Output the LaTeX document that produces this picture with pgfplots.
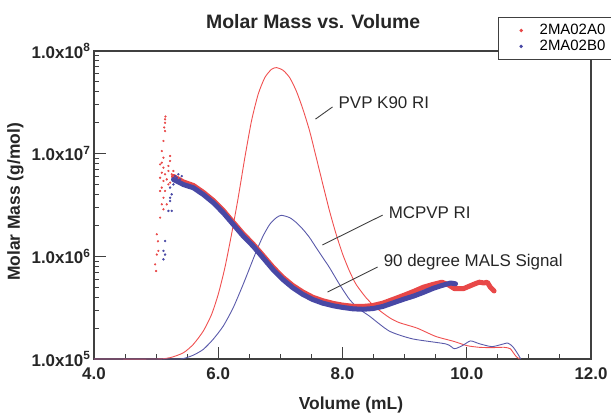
\documentclass[border=0pt]{standalone}
\usepackage{pgfplots}
\pgfplotsset{compat=1.18}
\usepackage{fontspec}
\setmainfont{Liberation Sans}
\definecolor{mred}{RGB}{240,80,80}
\definecolor{mblue}{RGB}{90,90,170}
\definecolor{bred}{RGB}{232,72,72}
\definecolor{bblue}{RGB}{72,72,165}
\begin{document}
\begin{tikzpicture}
\begin{axis}[
  scale only axis, width=497bp, height=308bp,
  xmin=4, xmax=12, ymin=1e5, ymax=1e8, ymode=log,
  axis line style={draw=black!75, line width=1.1bp},
  xtick={4,6,8,10,12}, xticklabels={4.0,6.0,8.0,10.0,12.0},
  minor x tick num=3,
  ytick={1e5,1e6,1e7,1e8},
  yticklabels={1.0x10\textsuperscript{5},1.0x10\textsuperscript{6},1.0x10\textsuperscript{7},1.0x10\textsuperscript{8}},
  tick pos=left, tick align=inside,
  major tick length=12bp, minor tick length=5bp,
  every tick/.style={black!75, line width=0.9bp},
  ticklabel style={font=\bfseries\fontsize{17}{20}\selectfont, text=black!85},
  xticklabel style={yshift=-5bp},
  clip=false,
  legend style={at={(0.813,0.971)}, anchor=south west, draw=black!75, line width=1.1bp,
    fill=white, font=\fontsize{15}{17}\selectfont, inner xsep=8bp, inner ysep=5bp, row sep=0bp},
  legend cell align=right,
]
\addlegendimage{legend image code/.code={\path (0bp,0bp) (30bp,0bp); \fill[bred] (14bp,0bp) circle (1.1bp);}}
\addlegendentry{2MA02A0}
\addlegendimage{legend image code/.code={\path (0bp,0bp) (30bp,0bp); \fill[bblue] (14bp,0bp) circle (1.1bp);}}
\addlegendentry{2MA02B0}

% PVP K90 RI (red thin)
\addplot[forget plot, mred, line width=0.9bp, smooth, tension=0.4] coordinates {
(4.0,1.0e5) (5.0,1.0e5) (5.225,1.03e5) (5.439,1.15e5) (5.599,1.39e5) (5.759,1.87e5)
(5.893,2.72e5) (6.0,4.27e5) (6.107,7.76e5) (6.214,1.64e6) (6.321,3.72e6) (6.428,9.14e6)
(6.535,2.08e7) (6.642,3.78e7) (6.749,5.50e7) (6.856,6.62e7) (6.936,6.89e7) (7.043,6.49e7)
(7.150,5.50e7) (7.257,4.07e7) (7.364,2.70e7) (7.471,1.66e7) (7.578,9.14e6) (7.684,5.02e6)
(7.791,2.77e6) (7.898,1.64e6) (8.005,1.04e6) (8.112,7.19e5) (8.219,5.33e5) (8.380,3.95e5)
(8.540,3.16e5) (8.754,2.53e5) (8.914,2.26e5) (9.2,2.0e5) (9.5,1.66e5) (9.8,1.48e5)
(10.0,1.35e5) (10.2,1.30e5) (10.4,1.29e5) (10.6,1.30e5) (10.7,1.26e5) (10.75,1.15e5)
(10.8,1.05e5) (10.85,1.0e5)
};
% MCPVP RI (blue thin)
\addplot[forget plot, mblue, line width=0.9bp, smooth, tension=0.4] coordinates {
(4.0,1.0e5) (5.3,1.0e5) (5.439,1.01e5) (5.599,1.09e5) (5.759,1.24e5) (5.920,1.56e5)
(6.080,2.09e5) (6.241,3.16e5) (6.401,5.33e5) (6.508,7.76e5) (6.615,1.13e6) (6.722,1.58e6)
(6.829,2.05e6) (6.936,2.38e6) (7.016,2.51e6) (7.150,2.38e6) (7.257,2.13e6) (7.364,1.83e6)
(7.471,1.52e6) (7.578,1.21e6) (7.684,9.70e5) (7.791,7.76e5) (7.952,5.33e5) (8.112,3.81e5)
(8.273,3.05e5) (8.433,2.62e5) (8.754,1.87e5) (9.128,1.57e5) (9.668,1.40e5) (9.80,1.26e5)
(9.93,1.35e5) (10.06,1.50e5) (10.2,1.41e5) (10.4,1.32e5) (10.55,1.38e5) (10.66,1.43e5)
(10.74,1.32e5) (10.81,1.15e5) (10.87,1.0e5)
};
% MALS molar mass band, red
\addplot[forget plot, bred, line width=5bp, line join=round, line cap=round] coordinates {
(5.28,6.0e6) (5.44,5.3e6) (5.60,4.9e6) (5.76,4.2e6) (5.92,3.5e6) (6.08,2.8e6) (6.24,2.15e6)
(6.40,1.66e6) (6.56,1.32e6) (6.72,1.02e6) (6.88,7.85e5) (7.04,6.25e5) (7.20,5.2e5) (7.36,4.5e5)
(7.52,4.0e5) (7.68,3.7e5) (7.85,3.48e5) (8.0,3.35e5) (8.17,3.26e5) (8.33,3.25e5) (8.49,3.32e5)
(8.65,3.5e5) (8.86,3.9e5) (9.0,4.2e5) (9.145,4.55e5) (9.3,5.0e5) (9.468,5.35e5) (9.6,5.6e5)
(9.7,5.3e5) (9.8,4.85e5) (9.95,4.85e5) (10.1,5.3e5) (10.2,5.6e5) (10.28,5.5e5) (10.33,5.6e5)
(10.38,5.0e5) (10.44,4.6e5)
};
% MALS molar mass band, blue
\addplot[forget plot, bblue, line width=5bp, line join=round, line cap=round] coordinates {
(5.28,5.6e6) (5.44,5.0e6) (5.60,4.65e6) (5.76,4.0e6) (5.92,3.33e6) (6.08,2.66e6) (6.24,2.05e6)
(6.40,1.58e6) (6.56,1.26e6) (6.72,9.7e5) (6.88,7.45e5) (7.04,5.95e5) (7.20,4.94e5) (7.36,4.26e5)
(7.52,3.80e5) (7.68,3.50e5) (7.85,3.30e5) (8.0,3.18e5) (8.17,3.08e5) (8.33,3.05e5) (8.49,3.10e5)
(8.65,3.25e5) (8.86,3.6e5) (9.0,3.85e5) (9.145,4.1e5) (9.3,4.45e5) (9.468,4.9e5) (9.6,5.2e5)
(9.74,5.5e5) (9.82,5.4e5)
};
% scattered start, red
\addplot[forget plot, only marks, mark=*, mark size=0.9bp, bred] coordinates {
(5.15,2.3e7) (5.144,2.16e7) (5.144,2.00e7) (5.13,1.8e7) (5.144,1.66e7) (5.118,1.33e7) (5.091,1.06e7)
(5.118,9.14e6) (5.091,8.17e6) (5.064,7.87e6) (5.118,7.31e6) (5.091,6.53e6) (5.144,6.30e6)
(5.064,5.83e6) (5.118,5.42e6) (5.171,5.62e6) (5.198,6.78e6) (5.198,7.59e6) (5.225,8.49e6)
(5.225,9.49e6) (5.091,4.67e6) (5.064,4.33e6) (5.144,4.33e6) (5.118,3.72e6) (5.091,3.21e6)
(5.171,3.21e6) (5.118,2.87e6) (5.064,2.38e6) (5.011,1.64e6) (5.03,1.4e6) (5.037,1.13e6) (5.011,1.04e6)
(4.984,8.35e5) (5.000,7.20e5) (5.225,5.22e6) (5.251,6.30e6) (5.198,5.02e6) (5.278,6.78e6)
};
% scattered start, blue
\addplot[forget plot, only marks, mark=*, mark size=1.0bp, bblue] coordinates {
(5.225,4.67e6) (5.278,5.02e6) (5.251,4.02e6) (5.225,3.46e6) (5.198,2.77e6) (5.251,2.77e6)
(5.305,6.05e6) (5.332,5.83e6) (5.144,1.41e6) (5.118,1.13e6) (5.144,1.04e6) (5.118,9.35e5)
(5.225,3.72e6) (5.358,6.30e6) (5.385,5.62e6) (5.412,6.05e6)
};

% annotations
\draw[black!75, line width=0.9bp] (axis cs:7.565,2.17e7) -- (axis cs:7.839,2.85e7);
\node[anchor=west, inner sep=0pt, font=\fontsize{17}{20}\selectfont, text=black!85] at (axis cs:7.935,3.11e7) {PVP K90 RI};
\draw[black!75, line width=0.9bp] (axis cs:7.677,1.29e6) -- (axis cs:8.645,2.52e6);
\node[anchor=west, inner sep=0pt, font=\fontsize{17}{20}\selectfont, text=black!85] at (axis cs:8.742,2.64e6) {MCPVP RI};
\draw[black!75, line width=0.9bp] (axis cs:7.758,4.49e5) -- (axis cs:8.565,7.87e5);
\node[anchor=west, inner sep=0pt, font=\fontsize{17}{20}\selectfont, text=black!85] at (axis cs:8.661,8.79e5) {90 degree MALS Signal};

% title and axis labels
\node[font=\bfseries\fontsize{19.5}{22}\selectfont, text=black!85] at (rel axis cs:0.441,1.094) {Molar Mass vs. Volume};
\node[font=\bfseries\fontsize{17.5}{20}\selectfont, text=black!85] at (rel axis cs:0.517,-0.15) {Volume (mL)};
\node[rotate=90, font=\bfseries\fontsize{17.5}{20}\selectfont, text=black!85] at (rel axis cs:-0.158,0.51) {Molar Mass (g/mol)};
\end{axis}
\pgfresetboundingbox
\path (current axis.south west) ++(-94bp,-61bp) rectangle ++(611bp,420bp);
\end{tikzpicture}
\end{document}
